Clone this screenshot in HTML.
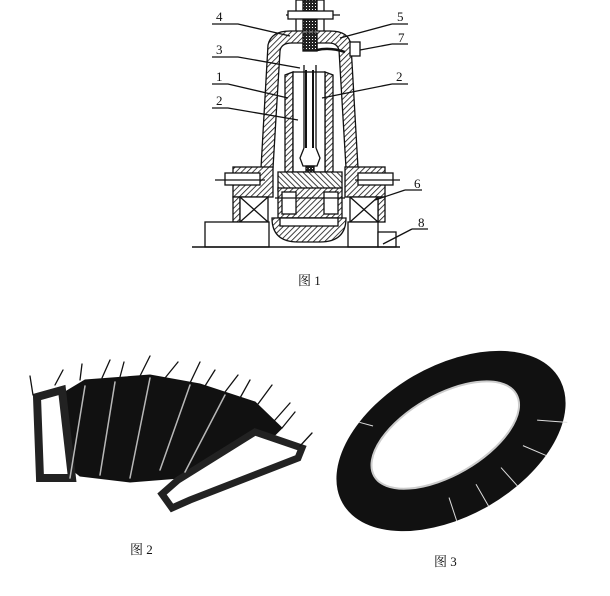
<!DOCTYPE html>
<html><head><meta charset="utf-8"><style>
html,body{margin:0;padding:0;background:#fff;}
svg{display:block;}
text{font-family:"Liberation Serif","Noto Serif CJK SC",serif;fill:#111;}
</style></head><body>
<svg width="610" height="596" viewBox="0 0 610 596" xmlns="http://www.w3.org/2000/svg">
<defs>
<pattern id="h" width="4" height="4" patternUnits="userSpaceOnUse" patternTransform="rotate(45)">
<rect width="4" height="4" fill="#fff"/><line x1="0" y1="0" x2="0" y2="4" stroke="#111" stroke-width="1.6"/>
</pattern>
<pattern id="h2" width="4" height="4" patternUnits="userSpaceOnUse" patternTransform="rotate(-45)">
<rect width="4" height="4" fill="#fff"/><line x1="0" y1="0" x2="0" y2="4" stroke="#111" stroke-width="1.6"/>
</pattern>
<pattern id="x" width="3" height="3" patternUnits="userSpaceOnUse">
<rect width="3" height="3" fill="#222"/><rect width="1" height="1" fill="#fff"/>
</pattern>
</defs>
<g stroke="#111" stroke-width="1.3" fill="none">
<rect x="296" y="0" width="28" height="32" fill="#fff"/>
<rect x="303" y="0" width="14" height="48" fill="url(#x)"/>
<line x1="286" y1="15" x2="340" y2="15"/>
<rect x="288" y="11" width="45" height="8" fill="#fff"/>
<path d="M261,168 L268,45 Q271,31 290,31 L330,31 Q349,31 351,45 L358,168 L346,168 L339,50 Q337,43 329,43 L292,43 Q281,43 280,51 L273,168 Z" fill="url(#h)"/>
<rect x="303" y="33" width="14" height="18" fill="url(#x)"/>
<path d="M317,50 Q330,47 345,52" stroke-width="2.5"/>
<rect x="350" y="42" width="10" height="14" fill="#fff"/>
<path d="M285,75 L293,72 L293,172 L285,172 Z" fill="url(#h)"/>
<path d="M325,72 L333,75 L333,172 L325,172 Z" fill="url(#h)"/>
<rect x="293" y="72" width="32" height="100" fill="#fff"/>
<line x1="304" y1="65" x2="304" y2="148"/><line x1="316" y1="65" x2="316" y2="148"/>
<line x1="306" y1="70" x2="306" y2="148" stroke-width="2"/><line x1="313" y1="70" x2="313" y2="148" stroke-width="2"/>
<path d="M304,148 L300,158 L303,166 L317,166 L320,158 L316,148"/>
<rect x="306" y="166" width="8" height="8" fill="url(#x)"/>
<path d="M278,172 L342,172 L342,190 L278,190 Z" fill="url(#h2)"/>
<rect x="278" y="188" width="64" height="30" fill="url(#h)"/>
<rect x="282" y="192" width="14" height="22" fill="#fff"/>
<rect x="324" y="192" width="14" height="22" fill="#fff"/>
<line x1="275" y1="198" x2="345" y2="198"/>
<rect x="233" y="167" width="40" height="30" fill="url(#h)"/>
<rect x="345" y="167" width="40" height="30" fill="url(#h)"/>
<rect x="233" y="197" width="7" height="25" fill="url(#h)"/>
<rect x="378" y="197" width="7" height="25" fill="url(#h)"/>
<rect x="225" y="173" width="35" height="12" fill="#fff"/>
<rect x="358" y="173" width="35" height="12" fill="#fff"/>
<line x1="215" y1="180" x2="265" y2="180"/><line x1="355" y1="180" x2="400" y2="180"/>
<rect x="240" y="197" width="28" height="25" fill="#fff"/>
<path d="M240,197 L268,222 M268,197 L240,222"/>
<rect x="350" y="197" width="28" height="25" fill="#fff"/>
<path d="M350,197 L378,222 M378,197 L350,222"/>
<path d="M272,218 L346,218 Q346,242 320,242 L298,242 Q272,242 272,218 Z" fill="url(#h)"/>
<rect x="280" y="218" width="58" height="8" fill="#fff"/>
<rect x="205" y="222" width="64" height="25" fill="#fff"/>
<rect x="348" y="222" width="30" height="25" fill="#fff"/>
<rect x="378" y="232" width="18" height="15" fill="#fff"/>
<line x1="192" y1="247" x2="400" y2="247" stroke-width="1.6"/>
<path d="M212,24 L238,24 L290,36"/>
<path d="M392,24 L408,24 M392,24 L340,38"/>
<path d="M392,44 L408,44 M392,44 L360,50"/>
<path d="M212,57 L238,57 L300,68"/>
<path d="M212,84 L228,84 L288,98"/>
<path d="M392,84 L408,84 M392,84 L322,98"/>
<path d="M212,108 L228,108 L298,120"/>
<path d="M405,190 L422,190 M405,190 L375,200"/>
<path d="M412,229 L428,229 M412,229 L383,244"/>
</g>
<g font-size="13">
<text x="216" y="21">4</text><text x="397" y="21">5</text><text x="398" y="42">7</text>
<text x="216" y="54">3</text><text x="216" y="81">1</text><text x="396" y="81">2</text>
<text x="216" y="105">2</text><text x="414" y="188">6</text><text x="418" y="227">8</text>
<text x="298" y="285" font-size="13">图 1</text>
<text x="130" y="554" font-size="13">图 2</text>
<text x="434" y="566" font-size="13">图 3</text>
</g>
<g stroke="#111" fill="none" stroke-linecap="round">
<path d="M55,398 L85,380 L150,375 L200,384 L255,402 L282,428 L265,445 L180,478 L130,482 L80,476 L60,460 Z" fill="#111"/>
<path d="M37,397 L62,390 L72,478 L40,478 Z" stroke="#222" stroke-width="8" fill="#fff"/>
<path d="M255,432 L302,448 L298,458 L190,500 L172,508 L162,494 L178,480 Z" stroke="#222" stroke-width="7" fill="#fff"/>
<path d="M85,386 L70,478 M115,382 L100,475 M150,378 L130,478 M190,385 L160,470 M225,395 L185,472" stroke="#fff" stroke-width="1.5" opacity=".7"/>
<path d="M33,395 L30,376 M55,385 L63,370 M80,380 L82,364 M102,378 L110,360 M120,377 L124,362 M140,376 L150,356 M165,378 L178,362 M190,383 L200,362 M205,386 L215,370 M225,392 L238,375 M240,398 L250,380 M258,404 L272,385 M275,420 L290,403 M282,428 L295,412 M300,446 L312,433" stroke-width="1.3"/>
</g>
<g transform="translate(451,441) rotate(-30)">
<ellipse cx="0" cy="0" rx="125" ry="75" fill="#111"/>
<ellipse cx="-2" cy="-8" rx="82" ry="40" fill="#fff" stroke="#ccc" stroke-width="2"/>
<g stroke="#ddd" stroke-width="1">
<line x1="-30" y1="48" x2="-35" y2="72"/><line x1="0" y1="50" x2="0" y2="75"/><line x1="30" y1="48" x2="35" y2="72"/>
<line x1="60" y1="40" x2="75" y2="60"/><line x1="85" y1="25" x2="110" y2="42"/><line x1="-60" y1="-52" x2="-70" y2="-62"/>
</g>
</g>
</svg>
</body></html>
